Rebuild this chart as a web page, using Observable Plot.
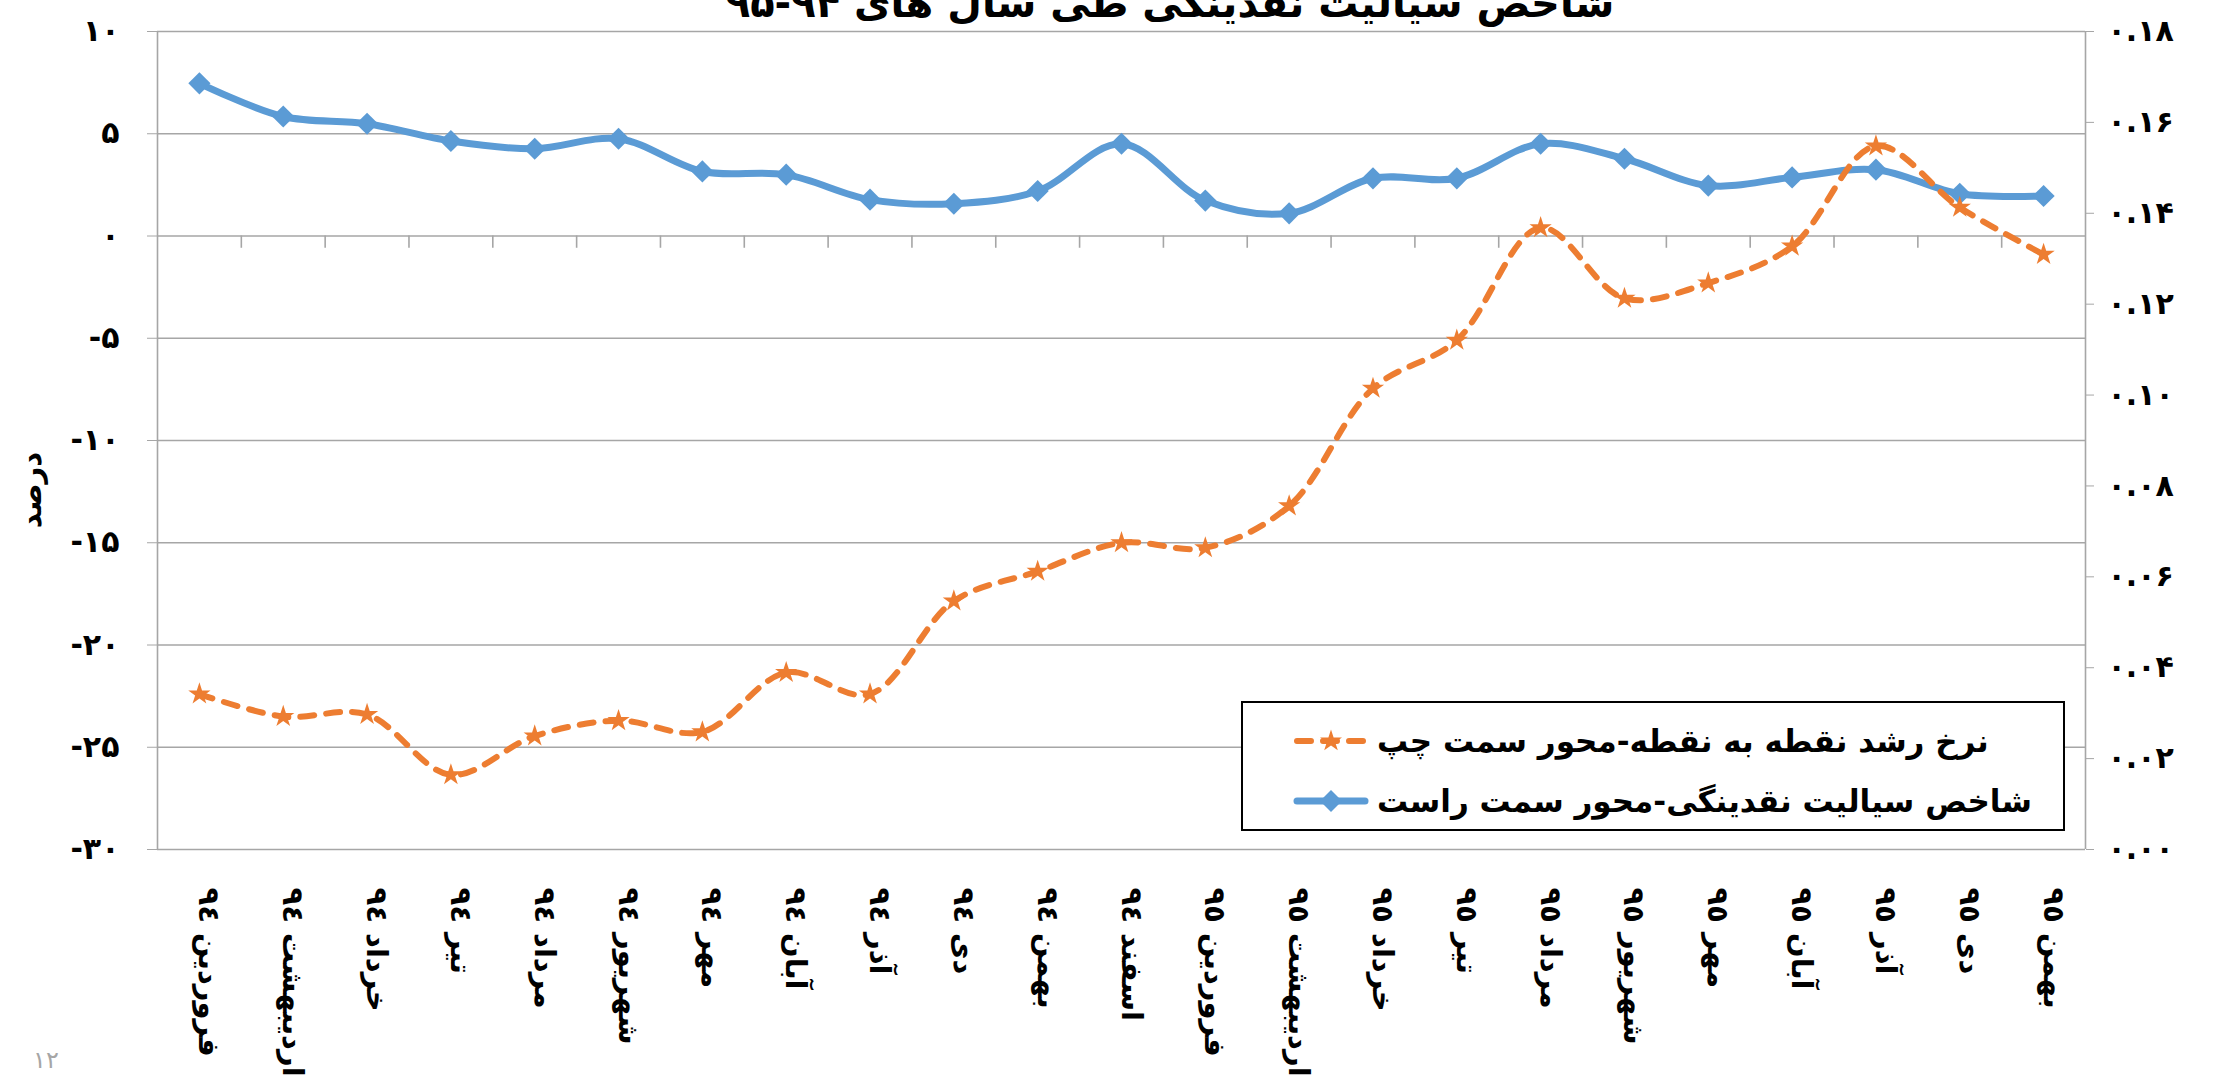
<!DOCTYPE html>
<html>
<head>
<meta charset="utf-8">
<script src="https://cdn.jsdelivr.net/npm/d3@7"></script>
<script src="https://cdn.jsdelivr.net/npm/@observablehq/plot@0.6"></script>
<style>
html, body { margin: 0; padding: 0; background: #fff; overflow: hidden; }
#wrap { position: relative; width: 2216px; height: 1075px; font-family: "DejaVu Sans", sans-serif; }
#title { position: absolute; top: -17px; left: 1170px; transform: translateX(-50%); font-size: 40px; font-weight: bold; white-space: nowrap; direction: rtl; line-height: 40px; }
#ytitle { position: absolute; left: 31px; top: 490px; transform: translate(-50%, -50%) rotate(-90deg); font-size: 29px; font-weight: bold; white-space: nowrap; direction: rtl; }
#page { position: absolute; left: 33px; top: 1046px; font-size: 24px; color: #a6a6a6; }
#legend { position: absolute; left: 1241px; top: 701px; width: 820px; height: 126px; border: 2px solid #000; background: #fff; }
.row { position: absolute; left: 0; height: 60px; display: flex; align-items: center; }
.row svg { margin-left: 50px; }
.row span { margin-left: 8px; font-size: 31px; font-weight: bold; direction: rtl; white-space: nowrap; }
</style>
</head>
<body>
<div id="wrap"></div>
<script>
const months = ["فروردین ٩٤","اردیبهشت ٩٤","خرداد ٩٤","تیر ٩٤","مرداد ٩٤","شهریور ٩٤","مهر ٩٤","آبان ٩٤","آذر ٩٤","دی ٩٤","بهمن ٩٤","اسفند ٩٤","فروردین ٩٥","اردیبهشت ٩٥","خرداد ٩٥","تیر ٩٥","مرداد ٩٥","شهریور ٩٥","مهر ٩٥","آبان ٩٥","آذر ٩٥","دی ٩٥","بهمن ٩٥"];
const growth = [-22.4, -23.5, -23.4, -26.35, -24.45, -23.7, -24.25, -21.35, -22.4, -17.85, -16.4, -15.0, -15.25, -13.2, -7.45, -5.1, 0.4, -3.05, -2.3, -0.5, 4.4, 1.4, -0.9];
const liquidity = [0.1686, 0.1613, 0.1597, 0.1559, 0.1542, 0.1564, 0.1492, 0.1485, 0.1430, 0.1421, 0.1449, 0.1553, 0.1428, 0.1400, 0.1477, 0.1477, 0.1553, 0.1520, 0.1461, 0.1479, 0.1496, 0.1443, 0.1438];
const leftTicks = [-30, -25, -20, -15, -10, -5, 0, 5, 10];
const leftTickLabels = ["-۳۰","-۲۵","-۲۰","-۱۵","-۱۰","-۵","۰","۵","۱۰"];
const rightTicks = [0, 0.02, 0.04, 0.06, 0.08, 0.10, 0.12, 0.14, 0.16, 0.18];
const rightTickLabels = ["۰.۰۰","۰.۰۲","۰.۰۴","۰.۰۶","۰.۰۸","۰.۱۰","۰.۱۲","۰.۱۴","۰.۱۶","۰.۱۸"];
const seriesNames = ["نرخ رشد نقطه به نقطه-محور سمت چپ", "شاخص سیالیت نقدینگی-محور سمت راست"];
const seriesColors = ["#ED7D31", "#5B9BD5"];
const titleText = "شاخص سیالیت نقدینگی طی سال های ۹۴-۹۵";
const yTitleText = "درصد";
const pageNumber = "۱۲";

const leftDomain = [-30, 10];
const rightDomain = [0, 0.18];
const toLeft = v => leftDomain[0] + (v - rightDomain[0]) / (rightDomain[1] - rightDomain[0]) * (leftDomain[1] - leftDomain[0]);

const idx = months.map((m, i) => i);
const boundaries = idx.slice(1).map(i => i - 0.5);
const growthData = months.map((m, i) => ({i, v: growth[i]}));
const liqData = months.map((m, i) => ({i, v: toLeft(liquidity[i])}));
const rightPos = rightTicks.map(toLeft);

const gridColor = "#a6a6a6";

const chart = Plot.plot({
  width: 2216,
  height: 1075,
  marginTop: 31,
  marginBottom: 226,
  marginLeft: 157,
  marginRight: 131,
  x: {domain: [-0.5, months.length - 0.5], axis: null},
  y: {domain: leftDomain, axis: null},
  style: {fontFamily: "DejaVu Sans", background: "white", overflow: "visible"},
  marks: [
    Plot.ruleY(leftTicks, {stroke: gridColor, strokeWidth: 1.6}),
    Plot.ruleX([-0.5, months.length - 0.5], {stroke: gridColor, strokeWidth: 1.6}),
    Plot.ruleX(boundaries, {y1: 0, y2: -0.6, stroke: gridColor, strokeWidth: 1.6}),
    Plot.axisY(leftTicks, {anchor: "left", tickSize: 10, tickPadding: 28, label: null,
      tickFormat: d => leftTickLabels[leftTicks.indexOf(d)],
      fontSize: 30, fontWeight: "bold", stroke: gridColor, fill: "black"}),
    Plot.axisY(rightPos, {anchor: "right", tickSize: 8, tickPadding: 14, label: null,
      tickFormat: d => rightTickLabels[rightPos.findIndex(p => Math.abs(p - d) < 1e-9)],
      fontSize: 30, fontWeight: "bold", stroke: gridColor, fill: "black"}),
    Plot.text(idx, {x: d => d, frameAnchor: "bottom", dy: 38, text: d => months[d],
      rotate: 90, textAnchor: "start", fontSize: 29, fontWeight: "bold", fill: "black"}),
    Plot.line(liqData, {x: "i", y: "v", stroke: seriesColors[1], strokeWidth: 7, curve: "catmull-rom"}),
    Plot.dot(liqData, {x: "i", y: "v", symbol: "diamond2", r: 10, fill: seriesColors[1]}),
    Plot.line(growthData, {x: "i", y: "v", stroke: seriesColors[0], strokeWidth: 6,
      strokeDasharray: "14,12", strokeLinecap: "round", curve: "catmull-rom"}),
    Plot.dot(growthData, {x: "i", y: "v", symbol: "star", r: 7, fill: seriesColors[0]})
  ]
});

const wrap = document.getElementById("wrap");
wrap.appendChild(chart);

const t = document.createElement("div"); t.id = "title"; t.textContent = titleText; wrap.appendChild(t);
const yt = document.createElement("div"); yt.id = "ytitle"; yt.textContent = yTitleText; wrap.appendChild(yt);
const pg = document.createElement("div"); pg.id = "page"; pg.textContent = pageNumber; wrap.appendChild(pg);

const legend = document.createElement("div"); legend.id = "legend";
const ns = "http://www.w3.org/2000/svg";
seriesNames.forEach((name, k) => {
  const row = document.createElement("div"); row.className = "row"; row.style.top = (k === 0 ? 8 : 68) + "px";
  const s = document.createElementNS(ns, "svg"); s.setAttribute("width", 76); s.setAttribute("height", 30);
  const ln = document.createElementNS(ns, "line");
  ln.setAttribute("x1", 4); ln.setAttribute("x2", 72); ln.setAttribute("y1", 15); ln.setAttribute("y2", 15);
  ln.setAttribute("stroke", seriesColors[k]); ln.setAttribute("stroke-width", k === 0 ? 6 : 7);
  ln.setAttribute("stroke-linecap", "round");
  if (k === 0) ln.setAttribute("stroke-dasharray", "14,12");
  s.appendChild(ln);
  const mk = document.createElementNS(ns, "path");
  mk.setAttribute("transform", "translate(38,15)");
  mk.setAttribute("d", k === 0 ? d3.symbol(d3.symbolStar, 150)() : d3.symbol(d3.symbolDiamond2, 310)());
  mk.setAttribute("fill", seriesColors[k]);
  s.appendChild(mk);
  row.appendChild(s);
  const sp = document.createElement("span"); sp.textContent = name; row.appendChild(sp);
  legend.appendChild(row);
});
wrap.appendChild(legend);
</script>
</body>
</html>
